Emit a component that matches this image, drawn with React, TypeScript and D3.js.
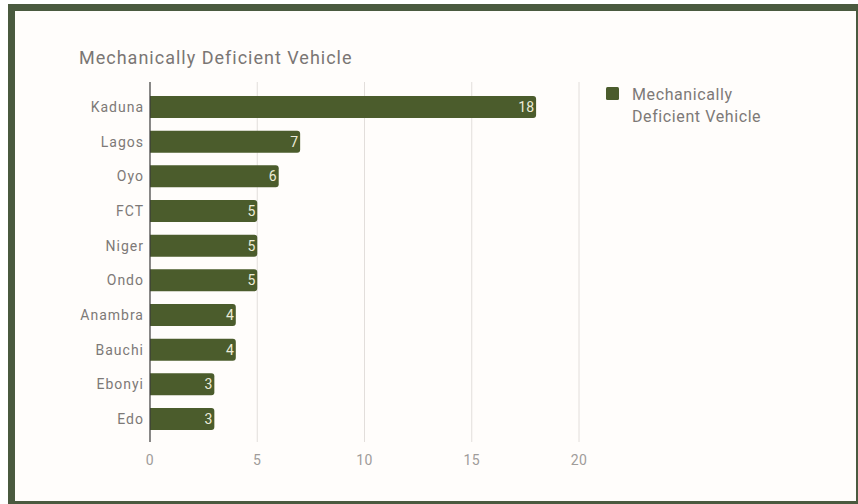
import React from "react";
import * as d3 from "d3";

const categories = ["Kaduna", "Lagos", "Oyo", "FCT", "Niger", "Ondo", "Anambra", "Bauchi", "Ebonyi", "Edo"];
const values = [18, 7, 6, 5, 5, 5, 4, 4, 3, 3];
const xTicks = [0, 5, 10, 15, 20];
const title = "Mechanically Deficient Vehicle";
const legendLines = ["Mechanically", "Deficient Vehicle"];

const W = 858;
const H = 504;
const BAR = "#4b5c2c";
const FRAME = "#4a5a3f";
const FONT = "Roboto, 'Noto Sans', sans-serif";

export default function App() {
  const x = d3.scaleLinear().domain([0, 20]).range([150, 579]);
  const y = d3
    .scaleBand<string>()
    .domain(categories)
    .range([89.7, 436.3])
    .paddingInner(0.365)
    .paddingOuter(0.1825);
  const r = 3;
  const barPath = (v: number, c: string) => {
    const x0 = x(0);
    const x1 = x(v);
    const y0 = y(c)!;
    const h = y.bandwidth();
    const p = d3.path();
    p.moveTo(x0, y0);
    p.lineTo(x1 - r, y0);
    p.arcTo(x1, y0, x1, y0 + r, r);
    p.lineTo(x1, y0 + h - r);
    p.arcTo(x1, y0 + h, x1 - r, y0 + h, r);
    p.lineTo(x0, y0 + h);
    p.closePath();
    return p.toString();
  };
  return (
    <svg
      width={W}
      height={H}
      style={{ position: "absolute", left: 0, top: 0, display: "block" }}
      fontFamily={FONT}
    >
      <rect x={0} y={0} width={W} height={H} fill="#ffffff" />
      <rect x={8} y={4} width={W - 8} height={H - 4} fill={FRAME} />
      <rect x={15} y={11} width={856 - 15} height={501 - 11} fill="#fffdfb" />
      <text x={79} y={63.5} fontSize={18} letterSpacing={1} fill="#7a7674">
        {title}
      </text>
      {xTicks.map((t) => (
        <g key={t}>
          {t !== 0 && (
            <line x1={x(t)} x2={x(t)} y1={82} y2={442} stroke="#e2dedb" strokeWidth={1} />
          )}
          <text x={x(t)} y={465} fontSize={14} letterSpacing={0.5} fill="#a09c9a" textAnchor="middle">
            {t}
          </text>
        </g>
      ))}
      {categories.map((c, i) => (
        <g key={c}>
          <path d={barPath(values[i], c)} fill={BAR} />
          <text
            x={x(values[i]) - 2}
            y={y(c)! + y.bandwidth() / 2}
            dy="0.35em"
            fontSize={14}
            fill="#ecebd8"
            textAnchor="end"
          >
            {values[i]}
          </text>
          <text
            x={144}
            y={y(c)! + y.bandwidth() / 2}
            dy="0.35em"
            fontSize={14}
            letterSpacing={1}
            fill="#7d7977"
            textAnchor="end"
          >
            {c}
          </text>
        </g>
      ))}
      <line x1={x(0)} x2={x(0)} y1={82} y2={442} stroke="#3a3a3a" strokeWidth={1.2} />
      <rect x={606} y={87} width={13} height={13} rx={1.5} fill={BAR} />
      {legendLines.map((l, i) => (
        <text key={l} x={632} y={99.5 + i * 22} fontSize={16} letterSpacing={0.6} fill="#7d7977">
          {l}
        </text>
      ))}
    </svg>
  );
}
